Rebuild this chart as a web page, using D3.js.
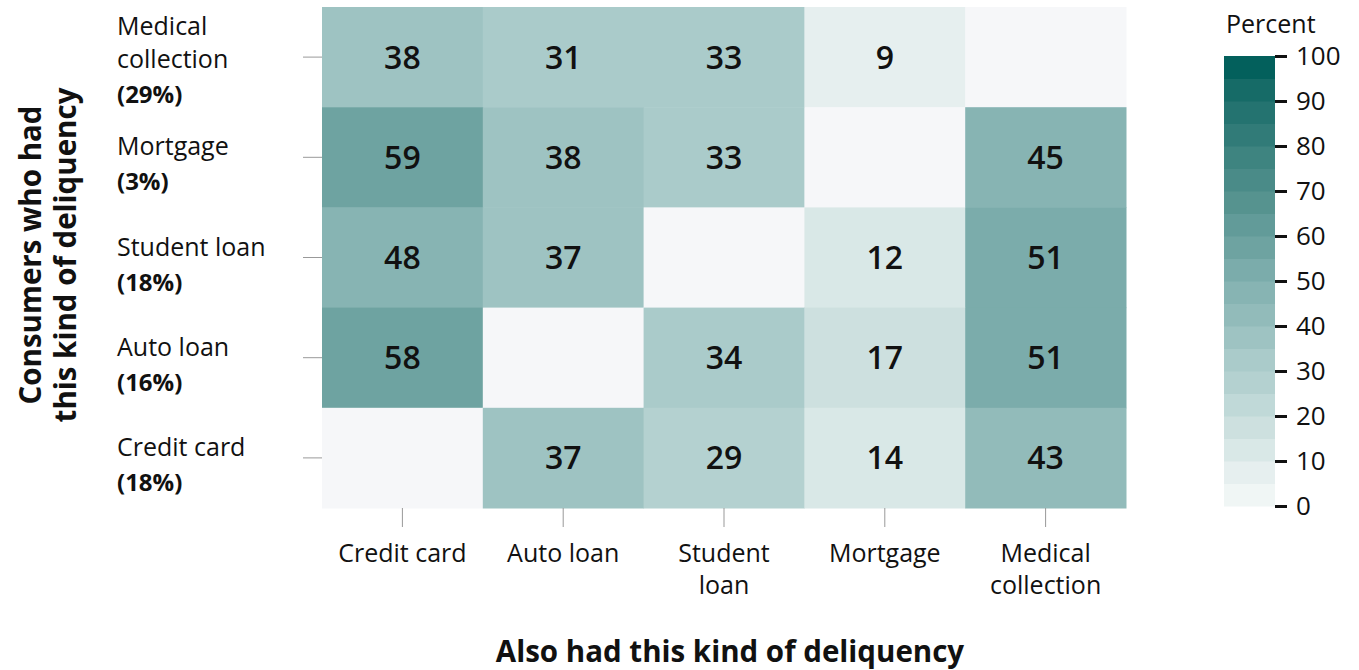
<!DOCTYPE html>
<html lang="en">
<head>
    <meta charset="UTF-8">
    <title>delinquency heatmap</title>
    <script src="https://d3js.org/d3.v7.min.js"></script>
    <style>
        body { margin: 0; background: #fff; }
        text { font-family: "Open Sans", sans-serif; fill: #111; }
    </style>
</head>
<body>
    <svg></svg>
    <script>
        const width = 1359;
        const height = 670;

        // rows: consumers who had this kind of delinquency (top to bottom)
        const rowNames = ["Medical collection", "Mortgage", "Student loan", "Auto loan", "Credit card"];
        const rowLines = [["Medical", "collection"], ["Mortgage"], ["Student loan"], ["Auto loan"], ["Credit card"]];
        const rowShares = ["(29%)", "(3%)", "(18%)", "(16%)", "(18%)"];
        // columns: also had this kind of delinquency
        const colNames = ["Credit card", "Auto loan", "Student loan", "Mortgage", "Medical collection"];
        const colLines = [["Credit card"], ["Auto loan"], ["Student", "loan"], ["Mortgage"], ["Medical", "collection"]];

        const medicalRow = [38, 31, 33, 9, null];
        const mortgageRow = [59, 38, 33, null, 45];
        const studentRow = [48, 37, null, 12, 51];
        const autoRow = [58, null, 34, 17, 51];
        const creditRow = [null, 37, 29, 14, 43];
        const values = [medicalRow, mortgageRow, studentRow, autoRow, creditRow];

        const legendTicks = [0, 10, 20, 30, 40, 50, 60, 70, 80, 90, 100];

        const plot = {left: 322, top: 7, right: 1126, bottom: 508};

        const svg = d3.select("svg")
            .attr("width", width)
            .attr("height", height);

        const x = d3.scaleBand()
            .domain(colNames)
            .range([plot.left, plot.right]);

        const y = d3.scaleBand()
            .domain(rowNames)
            .range([plot.top, plot.bottom]);

        // 20 step palette, 5 points per step
        const steps = ["#f0f6f5", "#e6efef", "#d9e8e7", "#cde0df", "#c0d9d8",
                       "#b4d1d0", "#aacbca", "#9ec3c2", "#92bbba", "#87b4b3",
                       "#7bacab", "#6ea3a1", "#629b99", "#56938f", "#4a8b88",
                       "#3e8480", "#317b78", "#247370", "#166b67", "#03605c"];
        const color = d3.scaleQuantize()
            .domain([0, 100])
            .range(steps);

        const cells = [];
        values.forEach((row, i) => row.forEach((v, j) => cells.push({row: rowNames[i], col: colNames[j], value: v})));

        svg.append("g")
            .selectAll("rect")
            .data(cells)
            .join("rect")
                .attr("x", d => x(d.col))
                .attr("y", d => y(d.row))
                .attr("width", x.bandwidth() + 0.5)
                .attr("height", y.bandwidth() + 0.5)
                .attr("fill", d => d.value == null ? "#f6f7f9" : color(d.value));

        svg.append("g")
            .selectAll("text")
            .data(cells.filter(d => d.value != null))
            .join("text")
                .attr("x", d => x(d.col) + x.bandwidth() / 2)
                .attr("y", d => y(d.row) + y.bandwidth() / 2)
                .attr("dy", "0.36em")
                .attr("text-anchor", "middle")
                .attr("font-size", 32)
                .attr("font-weight", 600)
                .text(d => d.value);

        // y ticks + labels
        const yAxis = svg.append("g");
        yAxis.selectAll("line")
            .data(rowNames)
            .join("line")
                .attr("x1", 303).attr("x2", plot.left)
                .attr("y1", d => y(d) + y.bandwidth() / 2)
                .attr("y2", d => y(d) + y.bandwidth() / 2)
                .attr("stroke", "#999").attr("stroke-width", 1);

        rowNames.forEach((r, i) => {
            const lines = rowLines[i];
            const cy = y(r) + y.bandwidth() / 2;
            const t = yAxis.append("text")
                .attr("x", 117)
                .attr("y", cy - 11 - (lines.length - 1) * 20)
                .attr("font-size", 25);
            lines.forEach((l, k) => {
                t.append("tspan").attr("x", 117).attr("dy", k === 0 ? "0.36em" : 33).text(l);
            });
            t.append("tspan").attr("x", 117).attr("dy", 35)
                .attr("font-weight", 700).attr("font-size", 24).text(rowShares[i]);
        });

        // x ticks + labels
        const xAxis = svg.append("g");
        xAxis.selectAll("line")
            .data(colNames)
            .join("line")
                .attr("x1", d => x(d) + x.bandwidth() / 2)
                .attr("x2", d => x(d) + x.bandwidth() / 2)
                .attr("y1", plot.bottom).attr("y2", 527)
                .attr("stroke", "#999").attr("stroke-width", 1);

        colNames.forEach((c, i) => {
            const t = xAxis.append("text")
                .attr("text-anchor", "middle")
                .attr("font-size", 25)
                .attr("y", 553);
            colLines[i].forEach((l, k) => {
                t.append("tspan").attr("x", x(c) + x.bandwidth() / 2)
                    .attr("dy", k === 0 ? "0.36em" : 32).text(l);
            });
        });

        // axis titles
        svg.append("text")
            .attr("x", (plot.left + plot.right) / 2 + 6)
            .attr("y", 651)
            .attr("dy", "0.36em")
            .attr("text-anchor", "middle")
            .attr("font-size", 29.5)
            .attr("font-weight", 700)
            .text("Also had this kind of deliquency");

        const yt = svg.append("text")
            .attr("transform", "translate(30, 255) rotate(-90)")
            .attr("text-anchor", "middle")
            .attr("font-size", 29.5)
            .attr("font-weight", 700);
        yt.append("tspan").attr("x", 0).attr("dy", "0.36em").text("Consumers who had");
        yt.append("tspan").attr("x", 0).attr("dy", 35).text("this kind of deliquency");

        // legend
        const legend = {x: 1224, w: 51, top: 56, bottom: 506};
        const ly = d3.scaleLinear().domain([0, 100]).range([legend.bottom, legend.top]);
        const lg = svg.append("g");
        lg.selectAll("rect")
            .data(steps)
            .join("rect")
                .attr("x", legend.x)
                .attr("y", (d, i) => ly((i + 1) * 5))
                .attr("width", legend.w)
                .attr("height", ly(0) - ly(5) + 0.5)
                .attr("fill", d => d);

        lg.append("g")
            .attr("transform", `translate(${legend.x + legend.w}, 0)`)
            .call(d3.axisRight(ly).tickValues(legendTicks).tickSize(12).tickPadding(9))
            .call(g => g.select(".domain").remove())
            .call(g => g.selectAll(".tick line").attr("stroke", "#111").attr("stroke-width", 3))
            .call(g => g.selectAll(".tick text").attr("font-size", 26).attr("font-family", "'Open Sans', sans-serif").attr("fill", "#111"));

        lg.append("text")
            .attr("x", 1226)
            .attr("y", 24)
            .attr("dy", "0.36em")
            .attr("font-size", 25)
            .text("Percent");
    </script>
</body>
</html>
